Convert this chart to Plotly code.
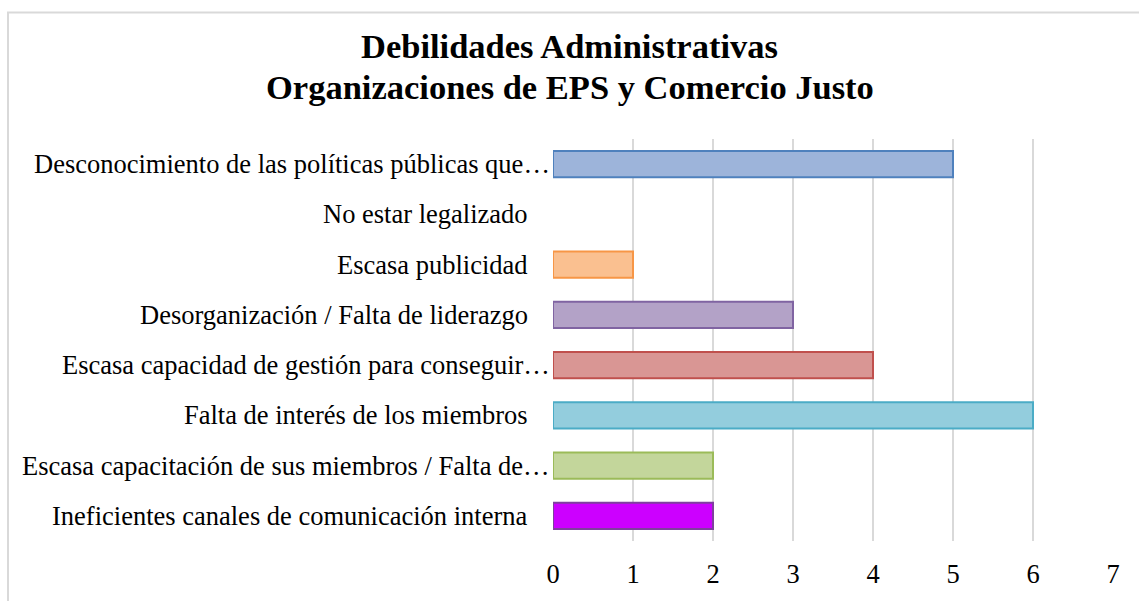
import plotly.graph_objects as go

# Categories listed top to bottom as they appear on the chart
categories = [
    "Desconocimiento de las políticas públicas que…",
    "No estar legalizado",
    "Escasa publicidad",
    "Desorganización / Falta de liderazgo",
    "Escasa capacidad de gestión para conseguir…",
    "Falta de interés de los miembros",
    "Escasa capacitación de sus miembros / Falta de…",
    "Ineficientes canales de comunicación interna",
]
values = [5, 0, 1, 3, 4, 6, 2, 2]
fill_colors = ["#9db4da", "#ffffff", "#fac090", "#b3a2c7", "#d99694", "#93cddd", "#c3d69b", "#cc00ff"]
line_colors = ["#4f81bd", "#ffffff", "#f79646", "#8064a2", "#c0504d", "#4bacc6", "#9bbb59", "#7f3f9f"]
x_ticks = [0, 1, 2, 3, 4, 5, 6, 7]
title_lines = ["Debilidades Administrativas", "Organizaciones de EPS y Comercio Justo"]

W, H = 1139, 601
ml, mr, mt, mb = 553, 26, 139, 55
pw, ph = W - ml - mr, H - mt - mb

serif = "Times New Roman, Liberation Serif, serif"
label_size = 26.5

fig = go.Figure(
    go.Bar(
        x=values,
        y=categories,
        orientation="h",
        marker=dict(color=fill_colors, line=dict(color=line_colors, width=2)),
        width=0.52,
        hoverinfo="x+y",
    )
)

annotations = []
# Category labels: truncated ones (ending in an ellipsis) run up to the plot edge
for cat in categories:
    annotations.append(
        dict(
            x=0,
            xref="paper",
            y=cat,
            yref="y",
            text=cat,
            showarrow=False,
            xanchor="right",
            yanchor="middle",
            xshift=-1 if cat.endswith("…") else -23,
            font=dict(family=serif, size=label_size, color="#000000"),
        )
    )
# Two-line bold title
for text, py in zip(title_lines, [45, 86]):
    annotations.append(
        dict(
            x=0.5,
            xref="paper",
            y=(H - mb - py) / ph,
            yref="paper",
            text=f"<b>{text}</b>",
            showarrow=False,
            xanchor="center",
            yanchor="middle",
            xshift=(W / 2) - (ml + pw / 2),
            font=dict(family=serif, size=34.5, color="#000000"),
        )
    )

fig.update_layout(
    width=W,
    height=H,
    margin=dict(l=ml, r=mr, t=mt, b=mb),
    paper_bgcolor="white",
    plot_bgcolor="white",
    showlegend=False,
    font=dict(family=serif, color="#000000", size=label_size),
    xaxis=dict(
        range=[0, 7],
        tickvals=x_ticks,
        ticktext=[str(t) for t in x_ticks],
        showgrid=True,
        gridcolor="#d9d9d9",
        gridwidth=2,
        zeroline=False,
        showline=False,
        ticks="",
        ticklabelstandoff=14,
        tickfont=dict(size=label_size, family=serif),
    ),
    yaxis=dict(
        autorange="reversed",
        categoryorder="array",
        categoryarray=categories,
        showgrid=False,
        zeroline=False,
        showline=False,
        ticks="",
        showticklabels=False,
    ),
    annotations=annotations,
    shapes=[
        # Light gray chart-area border
        dict(
            type="rect",
            xref="paper",
            yref="paper",
            x0=(8 - ml) / pw,
            x1=(W + 20 - ml) / pw,
            y0=-(mb + 20) / ph,
            y1=(H - mb - 11) / ph,
            line=dict(color="#d9d9d9", width=2),
            fillcolor="rgba(0,0,0,0)",
            layer="below",
        )
    ],
)

fig.write_html("out.html")
